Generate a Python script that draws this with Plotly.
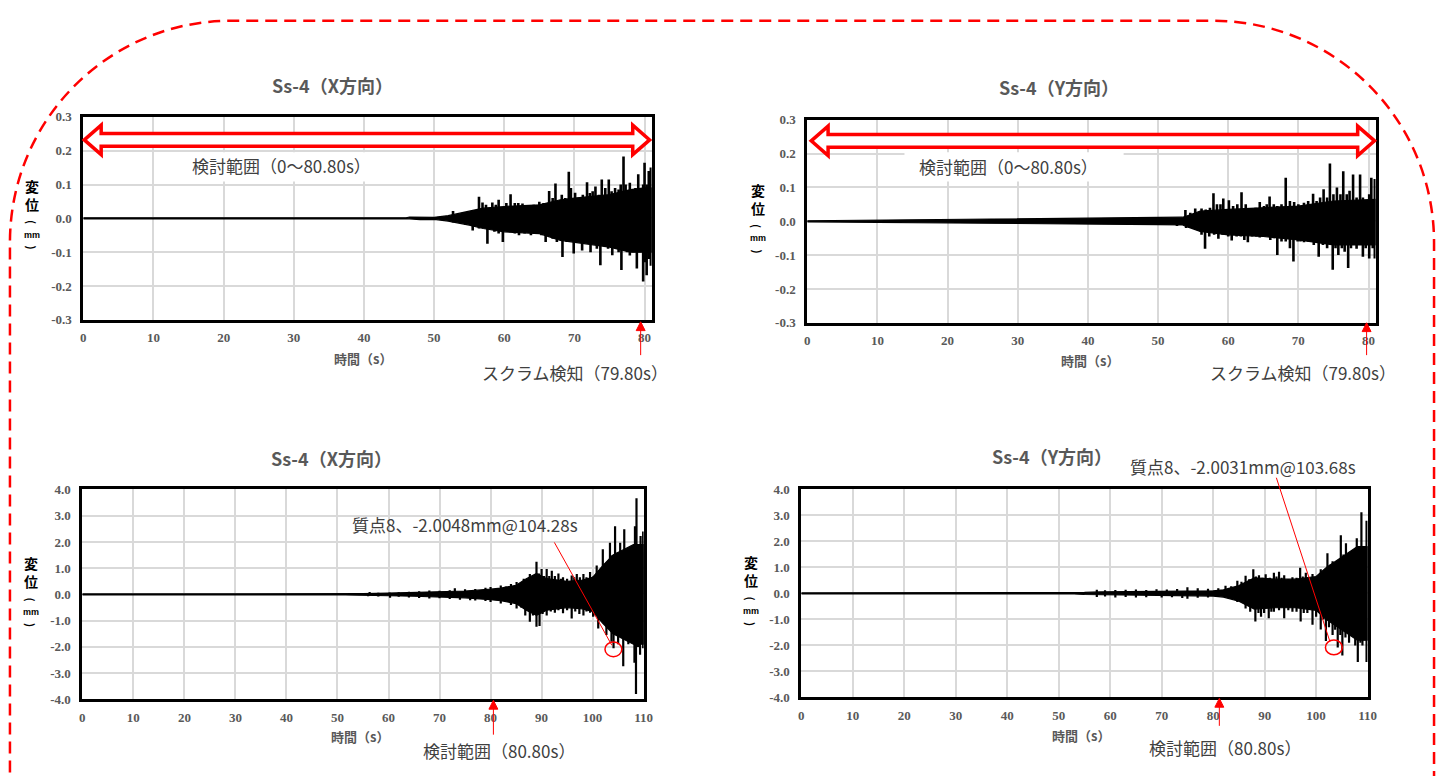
import plotly.graph_objects as go

W, H = 1447, 776

# ---------------- data ----------------
# Each panel: dense "core" band (upper / lower envelope) + individual spike peaks [mm]

# Top-left: Ss-4 (X direction), 0-81 s
tx_core_t = [0, 46, 46.5, 48, 48.5, 50, 52, 55, 57, 60, 65, 68, 70, 75, 78, 80, 81]
tx_core_up = [0.0015, 0.0015, 0.004, 0.004, 0.002, 0.003, 0.008, 0.02, 0.03, 0.035, 0.04, 0.055, 0.06, 0.07, 0.085, 0.09, 0.09]
tx_core_lo = [-0.0015, -0.0015, -0.0015, -0.004, -0.004, -0.003, -0.008, -0.02, -0.03, -0.04, -0.045, -0.065, -0.07, -0.085, -0.1, -0.1, -0.1]
tx_spk_t = [52.7, 54.3, 55.8, 56.4, 56.9, 57.4, 58.3, 58.8, 59.2, 60.3, 60.9, 61.5, 62.0, 62.6, 63.5, 64.2, 65.0, 65.6, 66.4, 66.9, 67.3, 68.2, 68.7, 69.2, 69.5, 70.1, 70.6, 71.2, 71.8, 72.2, 72.6, 73.0, 73.5, 73.9, 74.4, 74.9, 75.3, 75.8, 76.3, 76.6, 77.0, 77.3, 77.9, 78.3, 78.7, 79.1, 79.5, 79.8, 80.0, 80.3, 80.6, 80.9,
            52.7, 54.5, 55.5, 56.4, 57.6, 58.6, 59.2, 59.8, 60.6, 61.5, 62.1, 62.9, 63.8, 64.5, 65.3, 65.9, 66.9, 67.5, 68.3, 68.9, 69.9, 70.5, 71.1, 71.7, 72.3, 73.2, 73.7, 74.3, 74.8, 75.4, 75.9, 76.3, 76.7, 77.1, 77.5, 77.9, 78.4, 78.9, 79.3, 79.8, 80.1, 80.3, 80.6, 80.9]
tx_spk_v = [0.022, 0.018, 0.025, 0.064, 0.047, 0.04, 0.047, 0.04, 0.055, 0.045, 0.071, 0.045, 0.045, 0.044, 0.035, 0.04, 0.049, 0.045, 0.081, 0.06, 0.103, 0.07, 0.06, 0.138, 0.09, 0.076, 0.06, 0.07, 0.107, 0.075, 0.08, 0.094, 0.07, 0.115, 0.09, 0.115, 0.08, 0.09, 0.085, 0.1, 0.183, 0.1, 0.105, 0.08, 0.09, 0.13, 0.09, 0.1, 0.164, 0.1, 0.14, 0.15,
            -0.012, -0.02, -0.036, -0.03, -0.075, -0.04, -0.045, -0.07, -0.04, -0.045, -0.05, -0.045, -0.05, -0.045, -0.05, -0.07, -0.06, -0.07, -0.114, -0.07, -0.104, -0.07, -0.095, -0.07, -0.1, -0.09, -0.139, -0.08, -0.09, -0.109, -0.09, -0.1, -0.153, -0.09, -0.1, -0.11, -0.1, -0.148, -0.1, -0.187, -0.13, -0.168, -0.12, -0.14]

# Top-right: Ss-4 (Y direction), 0-81 s
ty_core_t = [0, 10, 20, 30, 40, 50, 53.5, 54, 56, 60, 65, 70, 75, 80, 81]
ty_core_up = [0.0015, 0.0035, 0.005, 0.007, 0.009, 0.011, 0.012, 0.015, 0.03, 0.035, 0.04, 0.045, 0.06, 0.065, 0.065]
ty_core_lo = [-0.0015, -0.003, -0.0045, -0.006, -0.008, -0.01, -0.011, -0.015, -0.03, -0.04, -0.045, -0.055, -0.07, -0.07, -0.07]
ty_spk_t = [53.9, 54.6, 55.3, 56.2, 56.8, 57.4, 57.9, 58.4, 58.9, 59.3, 60.1, 60.7, 61.3, 61.9, 62.5, 63.3, 63.9, 64.5, 65.1, 65.5, 65.9, 66.5, 67.0, 67.6, 68.2, 68.8, 69.4, 70.0, 70.8, 71.4, 72.1, 72.6, 73.1, 73.6, 74.1, 74.5, 75.0, 75.5, 76.0, 76.4, 76.9, 77.3, 77.8, 78.3, 78.8, 79.2, 79.7, 80.1, 80.4, 80.9,
            52.7, 54.0, 54.5, 55.5, 56.2, 56.7, 57.3, 58.0, 58.6, 59.2, 60.0, 60.5, 61.2, 61.8, 62.3, 62.8, 63.4, 64.0, 64.5, 65.2, 66.0, 66.5, 67.0, 67.6, 68.2, 68.8, 69.3, 69.9, 70.3, 70.8, 71.4, 72.2, 72.9, 73.5, 74.1, 74.9, 75.3, 75.7, 76.2, 76.6, 77.1, 77.5, 78.0, 78.3, 78.8, 79.2, 79.6, 80.1, 80.6, 80.9]
ty_spk_v = [0.033, 0.025, 0.038, 0.038, 0.035, 0.04, 0.083, 0.05, 0.05, 0.067, 0.062, 0.045, 0.05, 0.086, 0.05, 0.038, 0.04, 0.057, 0.045, 0.05, 0.073, 0.05, 0.045, 0.05, 0.129, 0.06, 0.057, 0.05, 0.055, 0.06, 0.081, 0.06, 0.07, 0.095, 0.07, 0.171, 0.08, 0.1, 0.08, 0.148, 0.08, 0.09, 0.138, 0.07, 0.138, 0.07, 0.06, 0.08, 0.129, 0.125,
            -0.014, -0.02, -0.02, -0.025, -0.04, -0.081, -0.045, -0.04, -0.052, -0.04, -0.045, -0.057, -0.045, -0.045, -0.055, -0.062, -0.045, -0.045, -0.048, -0.045, -0.055, -0.05, -0.1, -0.06, -0.06, -0.08, -0.119, -0.06, -0.06, -0.062, -0.06, -0.07, -0.105, -0.07, -0.08, -0.143, -0.08, -0.1, -0.08, -0.09, -0.138, -0.08, -0.07, -0.081, -0.07, -0.105, -0.08, -0.11, -0.08, -0.11]

# Bottom-left: Ss-4 (X direction), 0-110 s
bx_core_t = [0, 51.5, 55, 60, 65, 70, 75, 80, 82, 85, 87, 89, 91, 95, 98, 100, 102, 104, 106, 108, 110]
bx_core_up = [0.02, 0.02, 0.03, 0.05, 0.07, 0.09, 0.13, 0.2, 0.24, 0.35, 0.6, 0.8, 0.6, 0.5, 0.55, 0.65, 1.1, 1.5, 1.7, 1.9, 1.9]
bx_core_lo = [-0.02, -0.02, -0.03, -0.05, -0.07, -0.09, -0.13, -0.2, -0.24, -0.35, -0.6, -0.8, -0.6, -0.5, -0.55, -0.65, -1.1, -1.5, -1.7, -1.9, -1.9]
bx_spk_t = [56.3, 58.0, 60.2, 62.0, 64.0, 66.0, 68.0, 70.0, 72.0, 73.0, 75.0, 77.0, 79.0, 80.0, 82.0, 83.0, 84.0, 85.1, 86.5, 87.2, 87.7, 88.3, 89.0, 89.5, 90.0, 90.5, 91.0, 91.5, 92.0, 92.6, 93.3, 93.8, 94.2, 95.0, 95.9, 96.4, 96.9, 97.5, 98.2, 98.8, 99.5, 100.2, 100.8, 101.4, 102.0, 102.6, 103.4, 103.9, 104.4, 104.9, 105.4, 105.8, 106.2, 106.8, 107.3, 107.9, 108.3, 108.6, 108.9, 109.4, 109.7, 109.9,
            56.0, 58.0, 60.3, 62.0, 64.0, 66.0, 68.0, 70.0, 72.0, 74.0, 76.0, 77.0, 79.0, 80.0, 82.0, 84.0, 85.1, 86.0, 86.8, 87.7, 88.3, 89.0, 89.6, 90.2, 91.0, 91.8, 92.6, 93.3, 94.2, 95.0, 95.9, 96.6, 97.4, 98.2, 98.8, 99.5, 100.1, 100.6, 101.1, 101.8, 102.7, 103.2, 103.7, 104.1, 104.6, 105.0, 105.5, 106.0, 106.5, 107.0, 107.6, 108.2, 108.5, 108.9, 109.3, 109.6, 109.9]
bx_spk_v = [0.09, 0.06, 0.07, 0.08, 0.1, 0.12, 0.15, 0.14, 0.16, 0.24, 0.2, 0.21, 0.25, 0.28, 0.34, 0.3, 0.4, 0.47, 0.6, 0.55, 0.78, 0.65, 1.25, 0.8, 0.97, 0.7, 0.97, 0.7, 0.9, 0.7, 0.8, 0.6, 0.65, 0.6, 0.72, 0.65, 0.78, 0.65, 0.78, 0.65, 0.85, 0.7, 1.1, 0.9, 1.72, 1.2, 1.97, 1.5, 2.6, 1.6, 1.97, 1.6, 2.48, 1.5, 1.35, 1.8, 2.6, 3.67, 1.8, 2.23, 1.6, 2.4,
            -0.07, -0.08, -0.13, -0.09, -0.12, -0.14, -0.16, -0.15, -0.17, -0.2, -0.22, -0.23, -0.25, -0.29, -0.35, -0.4, -0.54, -0.5, -0.8, -1.04, -0.8, -1.23, -1.2, -0.75, -0.8, -0.65, -0.7, -0.6, -0.72, -0.6, -0.92, -0.65, -0.75, -0.8, -0.65, -0.7, -0.85, -0.8, -1.3, -1.0, -1.55, -1.3, -1.8, -2.05, -1.5, -1.9, -1.5, -2.74, -1.6, -1.9, -1.5, -2.6, -3.8, -2.0, -2.3, -1.8, -2.05]

# Bottom-right: Ss-4 (Y direction), 0-110 s
by_core_t = [0, 53, 55, 58, 65, 70, 75, 80, 82, 85, 88, 92, 96, 100, 102, 105, 108, 110]
by_core_up = [0.02, 0.02, 0.04, 0.06, 0.07, 0.08, 0.09, 0.1, 0.14, 0.3, 0.6, 0.55, 0.55, 0.65, 1.0, 1.4, 1.8, 1.8]
by_core_lo = [-0.02, -0.02, -0.04, -0.06, -0.07, -0.08, -0.09, -0.1, -0.14, -0.3, -0.6, -0.55, -0.55, -0.65, -1.0, -1.4, -1.8, -1.8]
by_spk_t = [57.4, 59.0, 61.0, 63.0, 65.0, 67.0, 69.0, 71.0, 73.0, 75.0, 77.0, 79.0, 81.0, 82.4, 83.5, 84.7, 85.5, 86.3, 87.0, 87.8, 88.3, 88.9, 89.6, 90.2, 91.0, 91.8, 92.3, 92.8, 93.3, 93.8, 94.6, 95.4, 96.2, 96.9, 97.4, 98.0, 98.6, 99.3, 100.1, 100.9, 101.5, 102.2, 102.7, 103.2, 104.0, 104.8, 105.3, 105.8, 106.3, 106.8, 107.4, 107.9, 108.4, 108.8, 109.1, 109.4, 109.8,
            57.4, 59.0, 61.0, 63.0, 65.0, 67.0, 70.0, 72.0, 74.0, 75.0, 77.0, 79.0, 81.0, 83.5, 84.7, 85.5, 86.3, 87.2, 88.2, 88.8, 89.3, 89.9, 90.8, 91.3, 91.8, 92.8, 93.8, 94.6, 95.4, 96.2, 97.0, 97.6, 98.3, 99.3, 100.0, 100.9, 101.4, 101.9, 102.5, 103.2, 103.7, 104.2, 104.7, 105.1, 105.7, 106.4, 107.0, 107.6, 108.1, 108.6, 109.0, 109.4, 109.8]
by_spk_v = [0.14, 0.12, 0.13, 0.14, 0.15, 0.13, 0.16, 0.15, 0.17, 0.24, 0.2, 0.18, 0.2, 0.3, 0.28, 0.49, 0.45, 0.68, 0.55, 0.93, 0.65, 0.7, 0.6, 0.74, 0.6, 0.8, 0.65, 0.83, 0.6, 0.7, 0.55, 0.62, 0.6, 0.99, 0.65, 0.8, 0.6, 0.75, 0.65, 0.93, 0.9, 1.55, 1.1, 1.24, 1.2, 2.24, 1.5, 1.93, 1.4, 1.6, 1.5, 2.12, 1.7, 3.12, 1.7, 1.8, 2.8,
            -0.14, -0.12, -0.16, -0.14, -0.16, -0.15, -0.16, -0.15, -0.18, -0.2, -0.17, -0.16, -0.13, -0.2, -0.33, -0.3, -0.58, -0.7, -1.08, -0.75, -0.9, -0.75, -0.95, -0.7, -0.7, -0.65, -0.95, -0.65, -0.7, -0.7, -1.08, -0.75, -0.75, -1.2, -0.9, -1.39, -1.0, -1.83, -1.3, -1.6, -1.4, -2.08, -1.6, -2.39, -1.7, -1.9, -1.6, -2.0, -2.64, -1.9, -2.0, -1.8, -2.64]

# tick labels
top_yvals = [0.3, 0.2, 0.1, 0.0, -0.1, -0.2, -0.3]
top_ytext = ["0.3", "0.2", "0.1", "0.0", "-0.1", "-0.2", "-0.3"]
bot_yvals = [4, 3, 2, 1, 0, -1, -2, -3, -4]
bot_ytext = ["4.0", "3.0", "2.0", "1.0", "0.0", "-1.0", "-2.0", "-3.0", "-4.0"]
top_xvals = [0, 10, 20, 30, 40, 50, 60, 70, 80]
bot_xvals = [0, 10, 20, 30, 40, 50, 60, 70, 80, 90, 100, 110]

# ---------------- helpers ----------------
def X(px):
    return px / W

def Y(py):
    return 1 - py / H

def path(points, close=True):
    s = "M " + " L ".join(f"{X(a):.5f},{Y(b):.5f}" for a, b in points)
    return s + (" Z" if close else "")

fig = go.Figure()

panels = [
    (tx_core_t, tx_core_up, tx_core_lo, tx_spk_t, tx_spk_v, (81, 654), (112, 319), [0, 81], [-0.3, 0.3], top_yvals, top_ytext, top_xvals, 2.6),
    (ty_core_t, ty_core_up, ty_core_lo, ty_spk_t, ty_spk_v, (811, 1384), (115, 322), [0, 81], [-0.3, 0.3], top_yvals, top_ytext, top_xvals, 2.6),
    (bx_core_t, bx_core_up, bx_core_lo, bx_spk_t, bx_spk_v, (80, 646), (492, 706), [0, 110], [-4, 4], bot_yvals, bot_ytext, bot_xvals, 2.2),
    (by_core_t, by_core_up, by_core_lo, by_spk_t, by_spk_v, (805, 1376), (492, 704), [0, 110], [-4, 4], bot_yvals, bot_ytext, bot_xvals, 2.2),
]

tickfont = dict(family="Liberation Serif", size=13, color="#595959", weight="bold")

for i, (ct, cu, cl, st, sv, xd, yd, xr, yr, yvals, ytext, xvals, sw) in enumerate(panels, start=1):
    # dense core band
    fig.add_trace(go.Scatter(
        x=list(ct) + list(reversed(ct)), y=list(cu) + list(reversed(cl)),
        mode="lines", fill="toself", fillcolor="black",
        line=dict(color="black", width=1.2), showlegend=False, hoverinfo="skip",
        xaxis=f"x{i}", yaxis=f"y{i}"))
    # individual spikes (stems from 0 to the peak value)
    sx, sy = [], []
    for t, v in zip(st, sv):
        sx += [t, t, None]
        sy += [0, v, None]
    fig.add_trace(go.Scatter(
        x=sx, y=sy, mode="lines", line=dict(color="black", width=sw),
        showlegend=False, hoverinfo="skip", xaxis=f"x{i}", yaxis=f"y{i}"))
    sfx = "" if i == 1 else str(i)
    fig.layout[f"xaxis{sfx}"] = dict(
        domain=[X(xd[0]), X(xd[1])], range=xr, anchor=f"y{i}",
        tickvals=xvals, ticktext=[str(v) for v in xvals], tickfont=tickfont,
        showgrid=True, gridcolor="#d9d9d9", gridwidth=1.5, zeroline=False,
        showline=True, linecolor="black", linewidth=3, mirror=True, ticks="",
        ticklabelstandoff=4)
    fig.layout[f"yaxis{sfx}"] = dict(
        domain=[Y(yd[1]), Y(yd[0])], range=yr, anchor=f"x{i}",
        tickvals=yvals, ticktext=ytext, tickfont=tickfont,
        showgrid=True, gridcolor="#d9d9d9", gridwidth=1.5, zeroline=False,
        showline=True, linecolor="black", linewidth=3, mirror=True, ticks="",
        ticklabelstandoff=6)

shapes = []
annotations = []

# outer red dashed rounded border
k = 0.5523
rx, ry = 223, 226
left, right, top = 7, 1443, 14
cyc = top + ry
border = (f"M {X(left):.5f},{Y(800):.5f} L {X(left):.5f},{Y(cyc):.5f} "
          f"C {X(left):.5f},{Y(cyc - k*ry):.5f} {X(left + rx - k*rx):.5f},{Y(top):.5f} {X(left + rx):.5f},{Y(top):.5f} "
          f"L {X(right - rx):.5f},{Y(top):.5f} "
          f"C {X(right - rx + k*rx):.5f},{Y(top):.5f} {X(right):.5f},{Y(cyc - k*ry):.5f} {X(right):.5f},{Y(cyc):.5f} "
          f"L {X(right):.5f},{Y(800):.5f}")
shapes.append(dict(type="path", path=border, xref="paper", yref="paper",
                   line=dict(color="#ff0000", width=2.5, dash="12px,7px"), layer="above"))

# white boxes behind range labels (interrupting grid) + hollow double arrows
for (x0, x1, wl, wr, yc) in [(82, 652, 175, 396, 135.5), (815, 1383, 909, 1130, 136.5)]:
    shapes.append(dict(type="rect", xref="paper", yref="paper",
                       x0=X(wl), x1=X(wr), y0=Y(178), y1=Y(148),
                       fillcolor="white", line=dict(width=0), layer="above"))
    hl, hh, sh = 17, 15, 6.5
    pts = [(x0, yc), (x0 + hl, yc - hh), (x0 + hl, yc - sh), (x1 - hl, yc - sh), (x1 - hl, yc - hh),
           (x1, yc), (x1 - hl, yc + hh), (x1 - hl, yc + sh), (x0 + hl, yc + sh), (x0 + hl, yc + hh)]
    shapes.append(dict(type="path", path=path(pts), xref="paper", yref="paper",
                       fillcolor="white", line=dict(color="#ff0000", width=3.5), layer="above"))

# small red up-arrows (scram detection / study range end)
for (ax, ytip, yend) in [(643, 321, 355), (1375, 322, 355), (494.5, 707, 742), (1226.5, 705, 733)]:
    shapes.append(dict(type="path", path=path([(ax, ytip), (ax - 4.5, ytip + 9), (ax + 4.5, ytip + 9)]),
                       xref="paper", yref="paper", fillcolor="#ff0000",
                       line=dict(color="#ff0000", width=1), layer="above"))
    shapes.append(dict(type="line", xref="paper", yref="paper",
                       x0=X(ax), x1=X(ax), y0=Y(ytip + 8), y1=Y(yend),
                       line=dict(color="#ff0000", width=1), layer="above"))

# callout lines and circles for max points
for (lx0, ly0, lx1, ly1, cx, cy) in [(556, 546, 614, 651, 615.5, 655), (1284, 480, 1338, 647, 1342, 653)]:
    shapes.append(dict(type="line", xref="paper", yref="paper",
                       x0=X(lx0), y0=Y(ly0), x1=X(lx1), y1=Y(ly1),
                       line=dict(color="#ff0000", width=1), layer="above"))
    shapes.append(dict(type="circle", xref="paper", yref="paper",
                       x0=X(cx - 8.5), x1=X(cx + 8.5), y0=Y(cy + 7.5), y1=Y(cy - 7.5),
                       line=dict(color="#ff0000", width=1.5), layer="above"))

def ann(text, x, y, size, color="#404040", weight="normal", family="Noto Sans CJK JP", angle=0):
    annotations.append(dict(text=text, x=X(x), y=Y(y), xref="paper", yref="paper",
                            xanchor="center", yanchor="middle", showarrow=False, textangle=angle,
                            borderpad=0,
                            font=dict(family=family, size=size, color=color, weight=weight)))

# titles
for (x, y, t) in [(332, 80, "Ss-4（X方向）"), (1065, 82, "Ss-4（Y方向）"),
                  (331, 460, "Ss-4（X方向）"), (1058, 458, "Ss-4（Y方向）")]:
    ann(t, x, y, 18, color="#595959", weight="bold")

# x axis titles
for (x, y) in [(363, 358), (1096, 360), (360, 744), (1087, 743)]:
    ann("時間（s）", x, y, 13, color="#595959", weight="bold")

# y axis titles (vertical)
for (x, y0) in [(29, 183), (761, 187), (28, 568), (754, 567)]:
    ann("変<br>位", x, y0 + 8.5, 14, color="black", weight="bold")
    ann("(", x, y0 + 36, 11, color="black", weight="bold", angle=90)
    ann("mm", x, y0 + 49, 9, color="black", weight="bold", family="Liberation Sans")
    ann(")", x, y0 + 62, 11, color="black", weight="bold", angle=90)

# range / event labels
ann("検討範囲（0～80.80s）", 281, 162, 17)
ann("検討範囲（0～80.80s）", 1014, 163, 17)
ann("スクラム検知（79.80s）", 577, 373, 17)
ann("スクラム検知（79.80s）", 1311, 373, 17)
ann("検討範囲（80.80s）", 500, 758, 17)
ann("検討範囲（80.80s）", 1232, 755, 17)
ann("質点8、-2.0048mm@104.28s", 466, 528, 17)
ann("質点8、-2.0031mm@103.68s", 1250, 469, 17)

fig.update_layout(
    width=W, height=H, margin=dict(l=0, r=0, t=0, b=0),
    paper_bgcolor="white", plot_bgcolor="white",
    shapes=shapes, annotations=annotations, showlegend=False,
)

fig.write_html("out.html", config={"displayModeBar": False},
               post_script="document.body.style.margin='0';document.body.style.overflow='hidden';")
